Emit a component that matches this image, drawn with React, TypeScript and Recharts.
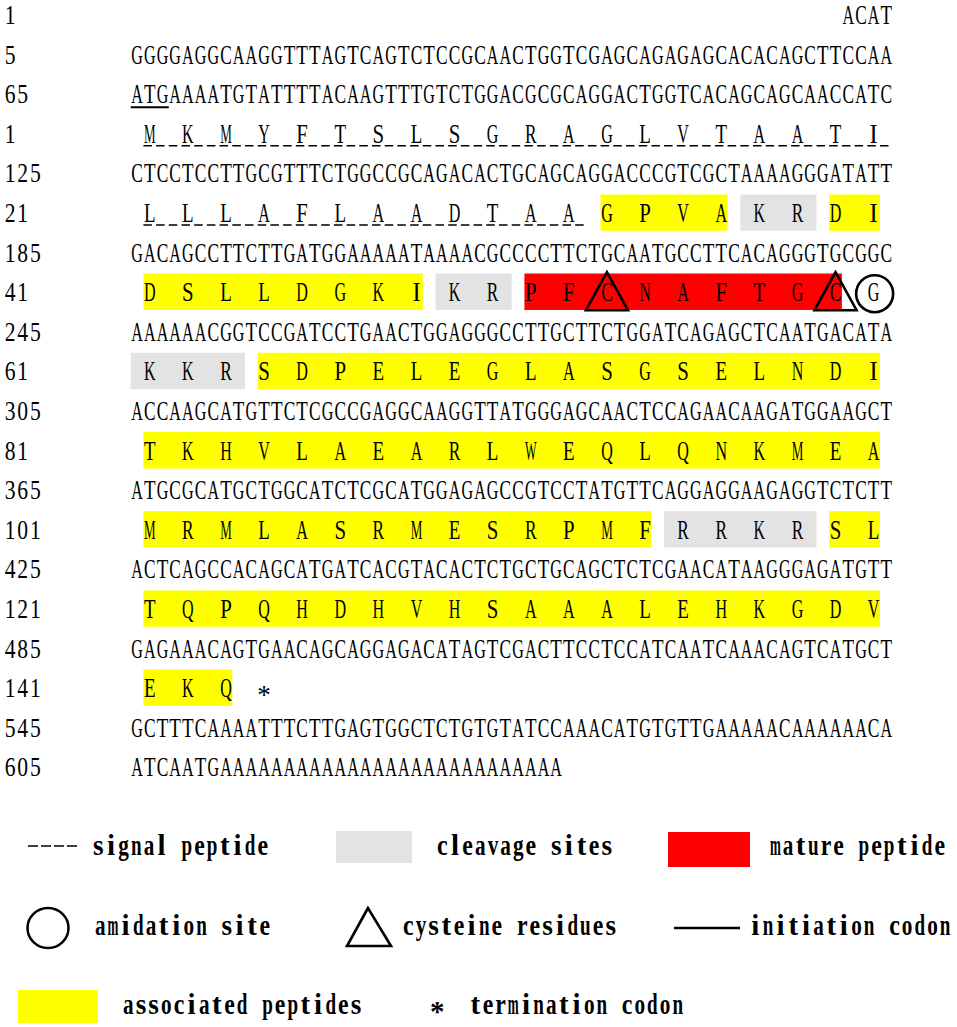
import { ScatterChart, Scatter, XAxis, YAxis, ReferenceArea, ReferenceLine } from 'recharts';

// nucleotide lines: start position + sequence
const ntStarts = [1, 5, 65, 125, 185, 245, 305, 365, 425, 485, 545, 605];
const ntLines = [
  'ACAT',
  'GGGGAGGCAAGGTTTAGTCAGTCTCCGCAACTGGTCGAGCAGAGAGCACACAGCTTCCAA',
  'ATGAAAATGTATTTTACAAGTTTGTCTGGACGCGCAGGACTGGTCACAGCAGCAACCATC',
  'CTCCTCCTTGCGTTTCTGGCCGCAGACACTGCAGCAGGACCCGTCGCTAAAAGGGATATT',
  'GACAGCCTTCTTGATGGAAAAATAAAACGCCCCTTCTGCAATGCCTTCACAGGGTGCGGC',
  'AAAAAACGGTCCGATCCTGAACTGGAGGGCCTTGCTTCTGGATCAGAGCTCAATGACATA',
  'ACCAAGCATGTTCTCGCCGAGGCAAGGTTATGGGAGCAACTCCAGAACAAGATGGAAGCT',
  'ATGCGCATGCTGGCATCTCGCATGGAGAGCCGTCCTATGTTCAGGAGGAAGAGGTCTCTT',
  'ACTCAGCCACAGCATGATCACGTACACTCTGCTGCAGCTCTCGAACATAAGGGAGATGTT',
  'GAGAAACAGTGAACAGCAGGAGACATAGTCGACTTCCTCCATCAATCAAACAGTCATGCT',
  'GCTTTCAAAATTTCTTGAGTGGCTCTGTGTATCCAAACATGTGTTGAAAAACAAAAAACA',
  'ATCAATG' + 'AAAAAAAAAA' + 'AAAAAAAAAA' + 'AAAAAAA',
];

// amino acid lines
const aaStarts = [1, 21, 41, 61, 81, 101, 121, 141];
const aaLines = [
  'MKMYFTSLSGRAGLVTAATI',
  'LLLAFLAADTAAGPVAKRDI',
  'DSLLDGKIKRPFCNAFTGCG',
  'KKRSDPELEGLASGSELNDI',
  'TKHVLAEARLWEQLQNKMEA',
  'MRMLASRMESRPMFRRKRSL',
  'TQPQHDHVHSAAALEHKGDV',
  'EKQ*',
];

// order of printed lines, top to bottom
const lineOrder = ['nt', 'nt', 'nt', 'aa', 'nt', 'aa', 'nt', 'aa', 'nt', 'aa', 'nt', 'aa', 'nt', 'aa', 'nt', 'aa', 'nt', 'aa', 'nt', 'nt'];

// annotations (residue numbers)
const signalRanges = [[1, 32]];
const associatedRanges = [[33, 36], [39, 48], [64, 114], [119, 143]];
const cleavageRanges = [[37, 38], [49, 50], [61, 63], [115, 118]];
const matureRanges = [[51, 59]];
const amidationSites = [60];
const cysteineSites = [53, 59];
const initiationCodon = [65, 67]; // nucleotide positions

const legendRows = [
  ['signal peptide', 'cleavage sites', 'mature peptide'],
  ['amidation site', 'cysteine residues', 'initiation codon'],
  ['associated peptides', 'termination codon'],
];

const W = 957;
const H = 1027;
const CELL = 12.7;
const SEQ_LEFT = 130.7;
const ROW0 = 15;
const ROW_H = 39.6;
const X_DOMAIN = [-SEQ_LEFT / CELL, (W - SEQ_LEFT) / CELL];
const Y_DOMAIN = [-ROW0 / ROW_H, (H - ROW0) / ROW_H];
const SEQ_FS = 27;
const FONT = "'Liberation Serif', 'DejaVu Serif', serif";
const YELLOW = '#ffff00';
const GREY = '#e3e3e3';
const RED = '#ff0000';

const UPPER_ADV: Record<string, number> = {
  A: 0.722, C: 0.667, D: 0.722, E: 0.611, F: 0.556, G: 0.722, H: 0.722, I: 0.333, K: 0.722,
  L: 0.611, M: 0.889, N: 0.722, P: 0.556, Q: 0.722, R: 0.667, S: 0.556, T: 0.611, V: 0.722,
  W: 0.944, Y: 0.722,
};
const LOWER_ADV: Record<string, number> = {
  a: 0.5, c: 0.444, d: 0.556, e: 0.444, g: 0.5, i: 0.278, l: 0.278, m: 0.833, n: 0.556,
  o: 0.5, p: 0.556, r: 0.444, s: 0.389, t: 0.333, u: 0.556, v: 0.5, y: 0.5,
};

const ntRowOf: number[] = [];
const aaRowOf: number[] = [];
lineOrder.forEach((kind, row) => (kind === 'nt' ? ntRowOf : aaRowOf).push(row));

const residuePos = (n: number) => {
  const line = Math.floor((n - 1) / 20);
  const i = (n - 1) % 20;
  return { line, row: aaRowOf[line], cell: 3 * i + 1 };
};

// split a residue range into one piece per printed line
const pieces = (ranges: number[][]) => {
  const out: { row: number; c1: number; c2: number }[] = [];
  ranges.forEach(([a, b]) => {
    let s = a;
    while (s <= b) {
      const lineEnd = Math.min(b, Math.floor((s - 1) / 20) * 20 + 20);
      const p1 = residuePos(s);
      const p2 = residuePos(lineEnd);
      out.push({ row: p1.row, c1: p1.cell, c2: p2.cell });
      s = lineEnd + 1;
    }
  });
  return out;
};

const glyphs: { x: number; y: number; ch: string }[] = [];
ntLines.forEach((seq, k) => {
  const row = ntRowOf[k];
  const offset = k === 0 ? 60 - seq.length : 0;
  seq.split('').forEach((ch, j) => glyphs.push({ x: offset + j + 0.5, y: row, ch }));
  String(ntStarts[k]).split('').forEach((ch, j) => glyphs.push({ x: -10 + j + 0.5, y: row, ch }));
});
aaLines.forEach((seq, k) => {
  const row = aaRowOf[k];
  seq.split('').forEach((ch, j) => glyphs.push({ x: 3 * j + 1.5, y: row, ch }));
  String(aaStarts[k]).split('').forEach((ch, j) => glyphs.push({ x: -10 + j + 0.5, y: row, ch }));
});

const sitePoints = (sites: number[]) =>
  sites.map((n) => {
    const p = residuePos(n);
    return { x: p.cell + 0.5, y: p.row };
  });

const startLine = ntStarts.findIndex((s, k) => initiationCodon[0] >= s && initiationCodon[0] < s + ntLines[k].length);

function SeqGlyph(props: any) {
  const { cx, cy, payload } = props;
  if (cx == null || cy == null) return null;
  const ch: string = payload.ch;
  let sx = Math.min(0.9, 11.6 / ((UPPER_ADV[ch] ?? 0.5) * SEQ_FS));
  let dy = 9;
  if (/\d/.test(ch)) sx = 0.8;
  if (ch === '*') {
    sx = 1;
    dy = 16;
  }
  return (
    <text transform={`translate(${cx},${cy + dy}) scale(${sx},1)`} textAnchor="middle" fontSize={SEQ_FS} fontFamily={FONT} fill="#000">
      {ch}
    </text>
  );
}

function Triangle(props: any) {
  const { cx, cy } = props;
  if (cx == null) return null;
  return <polygon points={`${cx},${cy - 20} ${cx - 21},${cy + 18} ${cx + 21},${cy + 18}`} fill="none" stroke="#000" strokeWidth={2.6} />;
}

function Ring(props: any) {
  const { cx, cy } = props;
  if (cx == null) return null;
  return <circle cx={cx + 1} cy={cy + 1.5} r={18.5} fill="none" stroke="#000" strokeWidth={2.6} />;
}

function LegendText({ x, y, text }: { x: number; y: number; text: string }) {
  const fs = 29;
  return (
    <g>
      {text.split('').map((ch, i) => {
        if (ch === ' ') return null;
        const sx = ch === '*' ? 1 : Math.max(0.45, Math.min(1, 10.6 / ((LOWER_ADV[ch] ?? 0.5) * fs)));
        const dy = ch === '*' ? 14 : 7;
        return (
          <text
            key={i}
            transform={`translate(${x + (i + 0.5) * 12.65},${y + dy}) scale(${sx},1)`}
            textAnchor="middle"
            fontSize={fs}
            fontWeight="bold"
            fontFamily={FONT}
            fill="#000"
          >
            {ch}
          </text>
        );
      })}
    </g>
  );
}

function SequenceLegend() {
  return (
    <svg width={W} height={H} style={{ position: 'absolute', left: 0, top: 0, pointerEvents: 'none' }}>
      <line x1={28} x2={78} y1={846} y2={846} stroke="#000" strokeWidth={1.5} strokeDasharray="10 3" />
      <LegendText x={92} y={848} text={legendRows[0][0]} />
      <rect x={336} y={831} width={76} height={32} fill={GREY} />
      <LegendText x={436} y={848} text={legendRows[0][1]} />
      <rect x={668} y={832} width={82} height={35} fill={RED} />
      <LegendText x={769} y={848} text={legendRows[0][2]} />

      <ellipse cx={48} cy={928} rx={20.5} ry={20} fill="none" stroke="#000" strokeWidth={2.5} />
      <LegendText x={94} y={928} text={legendRows[1][0]} />
      <polygon points="368,908 347,946 391,946" fill="none" stroke="#000" strokeWidth={2.6} />
      <LegendText x={402} y={928} text={legendRows[1][1]} />
      <line x1={674} x2={740} y1={928} y2={928} stroke="#000" strokeWidth={2.5} />
      <LegendText x={749} y={928} text={legendRows[1][2]} />

      <rect x={18} y={990} width={80} height={33} fill={YELLOW} />
      <LegendText x={122} y={1007} text={legendRows[2][0]} />
      <LegendText x={431} y={1007} text="*" />
      <LegendText x={469} y={1007} text={legendRows[2][1]} />
    </svg>
  );
}

export default function App() {
  const boxes = [
    ...pieces(associatedRanges).map((p) => ({ ...p, x1: p.c1, x2: p.c2 + 1, fill: YELLOW })),
    ...pieces(matureRanges).map((p) => ({ ...p, x1: p.c1, x2: p.c2 + 1, fill: RED })),
    ...pieces(cleavageRanges).map((p) => ({ ...p, x1: p.c1 - 1, x2: p.c2 + 2, fill: GREY })),
  ];
  const signal = pieces(signalRanges);
  const atgRow = ntRowOf[startLine];
  const atgCell = initiationCodon[0] - ntStarts[startLine];

  return (
    <div style={{ position: 'absolute', left: 0, top: 0, width: W, height: H, background: '#fff' }}>
      <ScatterChart width={W} height={H} margin={{ top: 0, right: 0, bottom: 0, left: 0 }}>
        <XAxis type="number" dataKey="x" domain={X_DOMAIN} allowDataOverflow hide />
        <YAxis type="number" dataKey="y" domain={Y_DOMAIN} allowDataOverflow reversed hide />
        {boxes.map((b, i) => (
          <ReferenceArea
            key={`box-${i}`}
            x1={b.x1}
            x2={b.x2}
            y1={b.row - 0.47}
            y2={b.row + 0.45}
            fill={b.fill}
            fillOpacity={1}
            stroke="none"
            ifOverflow="visible"
          />
        ))}
        {signal.map((p, i) => (
          <ReferenceLine
            key={`sig-${i}`}
            segment={[
              { x: p.c1, y: p.row + 0.3 },
              { x: p.c2 + 2, y: p.row + 0.3 },
            ]}
            stroke="#000"
            strokeWidth={1.5}
            strokeDasharray="8.5 4.2"
            ifOverflow="visible"
          />
        ))}
        <ReferenceLine
          segment={[
            { x: atgCell, y: atgRow + 0.33 },
            { x: atgCell + 3, y: atgRow + 0.33 },
          ]}
          stroke="#000"
          strokeWidth={2.2}
          ifOverflow="visible"
        />
        <Scatter data={glyphs} shape={SeqGlyph} isAnimationActive={false} />
        <Scatter data={sitePoints(cysteineSites)} shape={Triangle} isAnimationActive={false} />
        <Scatter data={sitePoints(amidationSites)} shape={Ring} isAnimationActive={false} />
      </ScatterChart>
      <SequenceLegend />
    </div>
  );
}
